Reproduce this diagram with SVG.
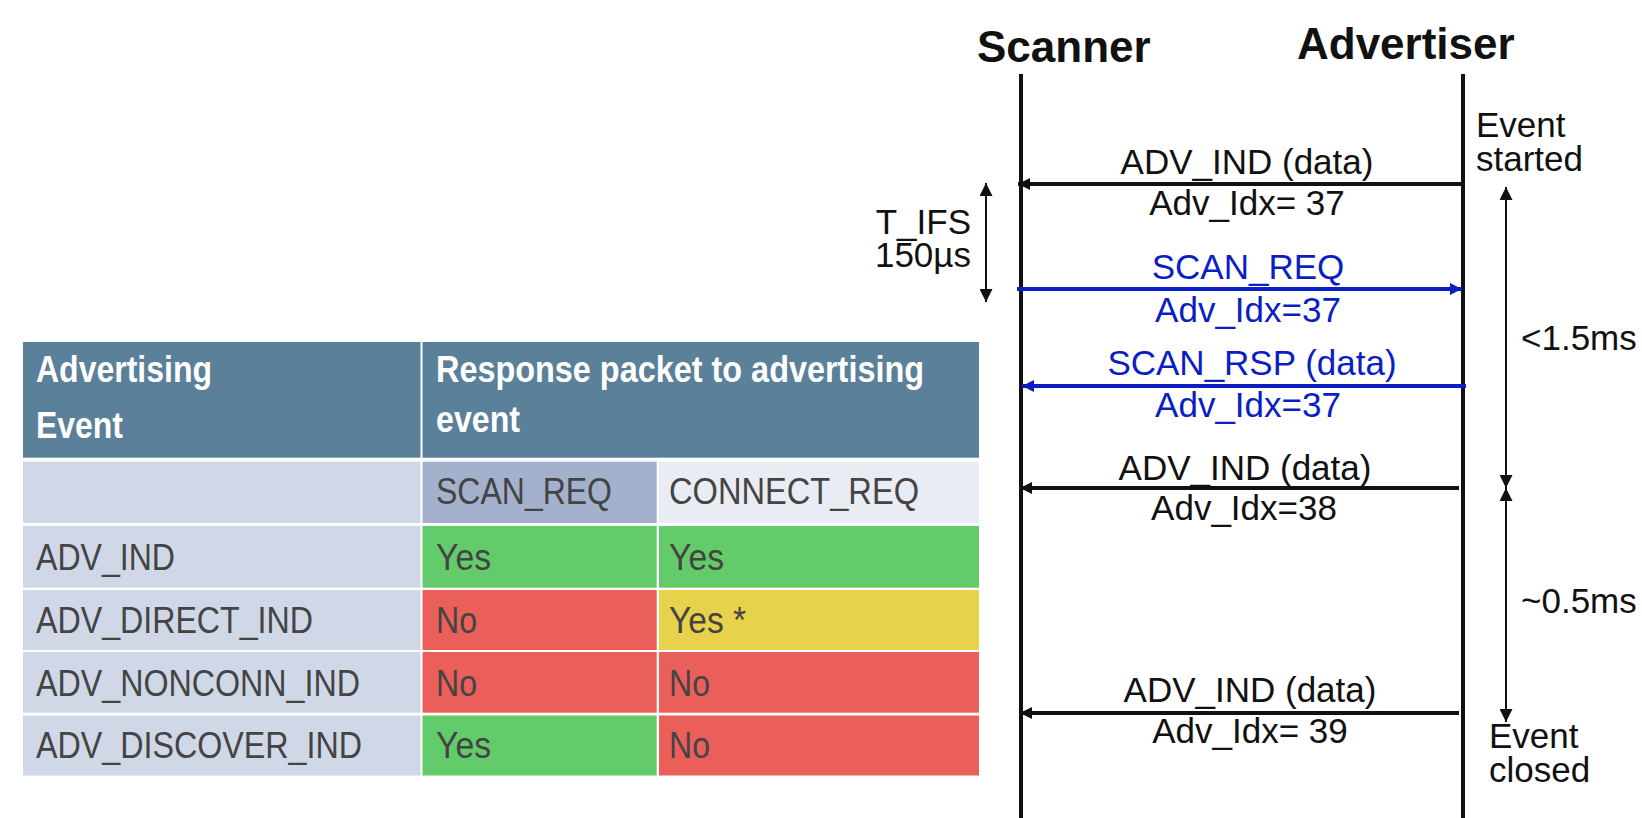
<svg xmlns="http://www.w3.org/2000/svg" width="1642" height="818" viewBox="0 0 1642 818">
<defs>
<style>
.hd{font-family:"Liberation Sans",Arial,sans-serif;font-weight:bold;font-size:36px;fill:#ffffff}
.tb{font-family:"Liberation Sans",Arial,sans-serif;font-size:37px;fill:#444444}
.sq{font-family:"Liberation Sans",Arial,sans-serif;font-size:35px;fill:#111111}
.bl{fill:#0a1ec4}
.ti{font-family:"Liberation Sans",Arial,sans-serif;font-weight:bold;font-size:44px;fill:#111111}
.life{stroke:#111111;stroke-width:4}
.msg{stroke:#111111;stroke-width:4;fill:none}
.msgb{stroke:#0a1ec4;stroke-width:4;fill:none}
.tm{stroke:#111111;stroke-width:2;fill:none}
</style>
<marker id="ak" markerUnits="userSpaceOnUse" markerWidth="12" markerHeight="12" refX="12" refY="6" orient="auto"><path d="M0,0 L12,6 L0,12 z" fill="#111111"/></marker>
<marker id="ab" markerUnits="userSpaceOnUse" markerWidth="12" markerHeight="12" refX="12" refY="6" orient="auto"><path d="M0,0 L12,6 L0,12 z" fill="#0a1ec4"/></marker>
<marker id="at" markerUnits="userSpaceOnUse" markerWidth="13" markerHeight="13" refX="13" refY="6.5" orient="auto-start-reverse"><path d="M0,0 L13,6.5 L0,13 z" fill="#111111"/></marker>
</defs>
<rect width="1642" height="818" fill="#ffffff"/>

<g id="table">
<rect x="23" y="342" width="397.5" height="115.7" fill="#5b8099"/>
<rect x="422.5" y="342" width="556.5" height="115.7" fill="#5b8099"/>
<text class="hd" x="36" y="381.7" textLength="176" lengthAdjust="spacingAndGlyphs">Advertising</text>
<text class="hd" x="36" y="438" textLength="87" lengthAdjust="spacingAndGlyphs">Event</text>
<text class="hd" x="436" y="381.7" textLength="488" lengthAdjust="spacingAndGlyphs">Response packet to advertising</text>
<text class="hd" x="436" y="431.7" textLength="84" lengthAdjust="spacingAndGlyphs">event</text>

<rect x="23" y="461.7" width="397.5" height="61.3" fill="#d0d8e8"/>
<rect x="422.5" y="461.7" width="234.2" height="61.3" fill="#a3b1cd"/>
<rect x="659" y="461.7" width="320" height="61.3" fill="#e9ecf3"/>
<text class="tb" x="436" y="504.3" textLength="176" lengthAdjust="spacingAndGlyphs">SCAN_REQ</text>
<text class="tb" x="669" y="504.3" textLength="250" lengthAdjust="spacingAndGlyphs">CONNECT_REQ</text>

<rect x="23" y="526" width="397.5" height="61.7" fill="#d0d8e8"/>
<rect x="422.5" y="526" width="234.2" height="61.7" fill="#64cb6a"/>
<rect x="659" y="526" width="320" height="61.7" fill="#64cb6a"/>
<text class="tb" x="36" y="570" textLength="139" lengthAdjust="spacingAndGlyphs">ADV_IND</text>
<text class="tb" x="436" y="570" textLength="55" lengthAdjust="spacingAndGlyphs">Yes</text>
<text class="tb" x="669" y="570" textLength="55" lengthAdjust="spacingAndGlyphs">Yes</text>

<rect x="23" y="590" width="397.5" height="60" fill="#d0d8e8"/>
<rect x="422.5" y="590" width="234.2" height="60" fill="#eb5f5a"/>
<rect x="659" y="590" width="320" height="60" fill="#e8d24b"/>
<text class="tb" x="36" y="633" textLength="277" lengthAdjust="spacingAndGlyphs">ADV_DIRECT_IND</text>
<text class="tb" x="436" y="633" textLength="41" lengthAdjust="spacingAndGlyphs">No</text>
<text class="tb" x="669" y="633" textLength="77" lengthAdjust="spacingAndGlyphs">Yes *</text>

<rect x="23" y="652" width="397.5" height="60.7" fill="#d0d8e8"/>
<rect x="422.5" y="652" width="234.2" height="60.7" fill="#eb5f5a"/>
<rect x="659" y="652" width="320" height="60.7" fill="#eb5f5a"/>
<text class="tb" x="36" y="695.5" textLength="324" lengthAdjust="spacingAndGlyphs">ADV_NONCONN_IND</text>
<text class="tb" x="436" y="695.5" textLength="41" lengthAdjust="spacingAndGlyphs">No</text>
<text class="tb" x="669" y="695.5" textLength="41" lengthAdjust="spacingAndGlyphs">No</text>

<rect x="23" y="715.5" width="397.5" height="60" fill="#d0d8e8"/>
<rect x="422.5" y="715.5" width="234.2" height="60" fill="#64cb6a"/>
<rect x="659" y="715.5" width="320" height="60" fill="#eb5f5a"/>
<text class="tb" x="36" y="758" textLength="326" lengthAdjust="spacingAndGlyphs">ADV_DISCOVER_IND</text>
<text class="tb" x="436" y="758" textLength="55" lengthAdjust="spacingAndGlyphs">Yes</text>
<text class="tb" x="669" y="758" textLength="41" lengthAdjust="spacingAndGlyphs">No</text>
</g>

<g id="scanner">
<text class="ti" x="977" y="62">Scanner</text>
<line class="life" x1="1021" y1="74" x2="1021" y2="818"/>
</g>
<g id="advertiser">
<text class="ti" x="1297" y="59">Advertiser</text>
<line class="life" x1="1463" y1="74" x2="1463" y2="818"/>
</g>

<g id="connectors">
<line class="msg" x1="1463" y1="184" x2="1018" y2="184" marker-end="url(#ak)"/>
<line class="msgb" x1="1017" y1="289" x2="1462" y2="289" marker-end="url(#ab)"/>
<line class="msgb" x1="1466" y1="386" x2="1022" y2="386" marker-end="url(#ab)"/>
<line class="msg" x1="1459" y1="488" x2="1020" y2="488" marker-end="url(#ak)"/>
<line class="msg" x1="1459" y1="713" x2="1020" y2="713" marker-end="url(#ak)"/>
<line class="tm" x1="986" y1="183" x2="986" y2="302" marker-start="url(#at)" marker-end="url(#at)"/>
<line class="tm" x1="1506" y1="187" x2="1506" y2="488" marker-start="url(#at)" marker-end="url(#at)"/>
<line class="tm" x1="1506" y1="488" x2="1506" y2="722" marker-start="url(#at)" marker-end="url(#at)"/>
</g>

<g id="labels">
<text class="sq" x="1247" y="174" text-anchor="middle">ADV_IND (data)</text>
<text class="sq" x="1247" y="215" text-anchor="middle">Adv_Idx= 37</text>
<text class="sq bl" x="1248" y="279" text-anchor="middle">SCAN_REQ</text>
<text class="sq bl" x="1248" y="322" text-anchor="middle">Adv_Idx=37</text>
<text class="sq bl" x="1252" y="375" text-anchor="middle">SCAN_RSP (data)</text>
<text class="sq bl" x="1248" y="417" text-anchor="middle">Adv_Idx=37</text>
<text class="sq" x="1245" y="480" text-anchor="middle">ADV_IND (data)</text>
<text class="sq" x="1244" y="520" text-anchor="middle">Adv_Idx=38</text>
<text class="sq" x="1250" y="702" text-anchor="middle">ADV_IND (data)</text>
<text class="sq" x="1250" y="743" text-anchor="middle">Adv_Idx= 39</text>
<text class="sq" x="971" y="234" text-anchor="end">T_IFS</text>
<text class="sq" x="971" y="267" text-anchor="end">150µs</text>
<text class="sq" x="1476" y="137">Event</text>
<text class="sq" x="1476" y="171">started</text>
<text class="sq" x="1521" y="350">&lt;1.5ms</text>
<text class="sq" x="1521" y="613">~0.5ms</text>
<text class="sq" x="1489" y="748">Event</text>
<text class="sq" x="1489" y="782">closed</text>
</g>
</svg>
